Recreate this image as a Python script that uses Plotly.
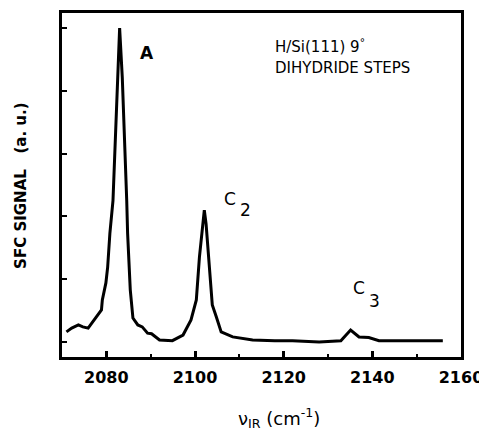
import plotly.graph_objects as go

wavenumber = [2071.0, 2072.2, 2073.7, 2074.7, 2075.9, 2076.7, 2077.4, 2078.9, 2079.1, 2079.9,
              2080.3, 2080.8, 2081.5, 2082.1, 2082.7, 2083.0, 2083.6, 2084.1, 2084.6, 2084.8,
              2085.4, 2086.0, 2087.1, 2088.1, 2089.3, 2090.2, 2092.0, 2094.9, 2096.5, 2097.3,
              2099.1, 2100.3, 2101.0, 2101.5, 2102.1, 2102.5, 2103.1, 2103.9, 2104.8, 2105.9,
              2108.5, 2113.0, 2118.0, 2122.0, 2128.0, 2132.9, 2135.1, 2137.0, 2139.2, 2141.5,
              2146.0, 2152.0, 2155.9]
signal = [0.16, 0.22, 0.27, 0.24, 0.22, 0.30, 0.38, 0.51, 0.67, 0.94,
          1.19, 1.73, 2.25, 3.37, 4.21, 5.00, 4.21, 3.37, 2.25, 1.73,
          0.83, 0.38, 0.27, 0.24, 0.14, 0.13, 0.03, 0.02, 0.08, 0.11,
          0.35, 0.67, 1.35, 1.73, 2.10, 1.88, 1.35, 0.59, 0.40, 0.16,
          0.08, 0.03, 0.02, 0.02, 0.00, 0.02, 0.19, 0.08, 0.07, 0.02,
          0.02, 0.02, 0.02]

x_ticks = [2080, 2100, 2120, 2140, 2160]
x_minor_ticks = [2090, 2110, 2130, 2150]
y_ticks = [0, 1, 2, 3, 4, 5]

font = "DejaVu Sans"

fig = go.Figure()
fig.add_trace(go.Scatter(x=wavenumber, y=signal, mode="lines",
                         line=dict(color="black", width=3), showlegend=False,
                         hoverinfo="skip"))

# page body has an 8px margin: plot area lands at x 62..461, y 10..357
fig.update_layout(
    width=479, height=423,
    margin=dict(l=54, r=26, t=2, b=74),
    paper_bgcolor="white", plot_bgcolor="white",
    font=dict(family=font, color="black", size=16),
    xaxis=dict(range=[2070, 2160], tickvals=x_ticks, ticks="inside", ticklen=6,
               tickwidth=2.5, tickcolor="black", showline=True, linecolor="black",
               linewidth=2.5, mirror=True, showgrid=False, zeroline=False,
               ticklabelstandoff=4,
               tickfont=dict(size=16, family=font, weight="bold"),
               minor=dict(tickvals=x_minor_ticks, ticks="inside",
                          ticklen=3, tickwidth=1.5, tickcolor="black")),
    yaxis=dict(range=[-0.24, 5.24], tickvals=y_ticks, ticks="inside", ticklen=5,
               tickwidth=1.5, tickcolor="black", showticklabels=False,
               showline=True, linecolor="black", linewidth=2.5, mirror=True,
               showgrid=False, zeroline=False),
)

# axis titles
fig.add_annotation(xref="paper", yref="paper", x=-0.103, y=0.5, textangle=-90,
                   xanchor="center", yanchor="middle", showarrow=False,
                   text="SFC SIGNAL&nbsp;&nbsp;&nbsp;(a. u.)",
                   font=dict(size=15, family=font, weight="bold", color="black"))
fig.add_annotation(xref="paper", yref="paper", x=0.544, y=-0.176,
                   xanchor="center", yanchor="middle", showarrow=False,
                   text="ν<sub>IR</sub> (cm<sup>-1</sup>)",
                   font=dict(size=18, family=font, color="black"))

# peak labels
peak_labels = [
    dict(x=2089.1, y=4.60, text="A", weight="bold"),
    dict(x=2108.0, y=2.28, text="C", weight="normal"),
    dict(x=2111.3, y=2.10, text="2", weight="normal"),
    dict(x=2137.1, y=0.86, text="C", weight="normal"),
    dict(x=2140.4, y=0.65, text="3", weight="normal"),
]
for a in peak_labels:
    fig.add_annotation(x=a["x"], y=a["y"], text=a["text"], showarrow=False,
                       xanchor="center", yanchor="middle",
                       font=dict(size=17, family=font, color="black", weight=a["weight"]))

fig.add_annotation(xref="paper", yref="paper", x=(273 - 62) / 399, y=(357 - 43) / 347,
                   xanchor="left", yanchor="middle", showarrow=False,
                   text="H/Si(111) 9<sup>°</sup>",
                   font=dict(size=15, family=font, color="black"))
fig.add_annotation(xref="paper", yref="paper", x=(273 - 62) / 399, y=(357 - 65) / 347,
                   xanchor="left", yanchor="middle", showarrow=False,
                   text="DIHYDRIDE STEPS",
                   font=dict(size=15, family=font, color="black"))

fig.write_html("out.html")
